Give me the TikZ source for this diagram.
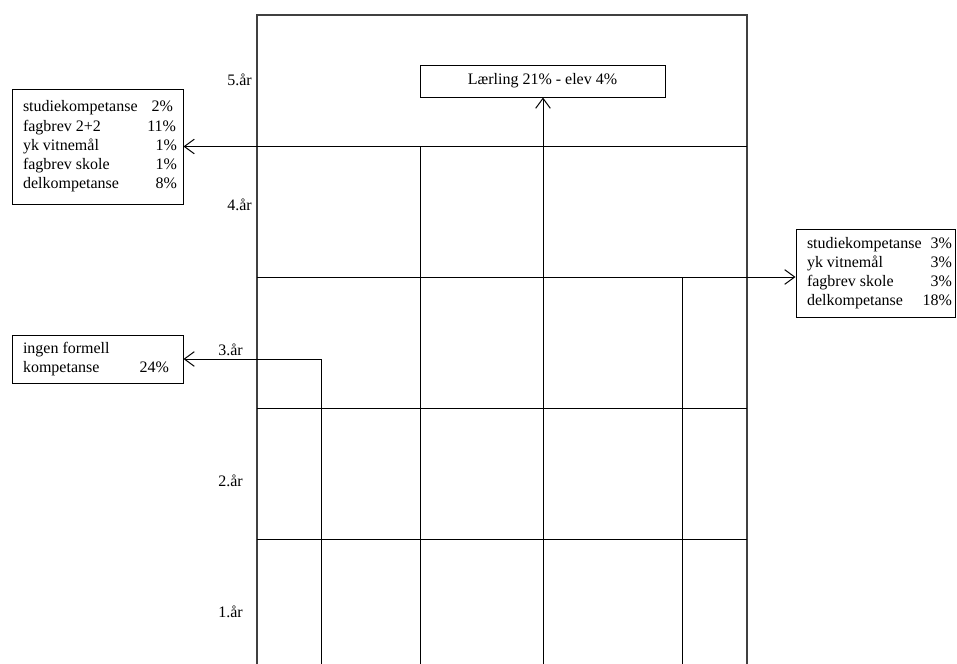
\documentclass[tikz,border=0pt]{standalone}
\usepackage{fontspec}
\setmainfont{Liberation Serif}
\usetikzlibrary{arrows.meta}
\newcommand\boxrow[3]{\makebox[#1][l]{#2}}
\begin{document}
\begin{tikzpicture}[x=0.75pt,y=-0.75pt,
  every node/.style={font=\fontsize{12}{14.4}\selectfont, inner sep=0pt},
  gridline/.style={line width=0.75pt},
  frame/.style={line width=1.2pt, draw=black!75},
  box/.style={draw, line width=0.75pt, rectangle, align=left},
  arr/.style={line width=0.75pt, -{Straight Barb[length=7.5pt,width=11pt]}},
  yr/.style={anchor=east}]
\useasboundingbox (0,0) rectangle (957,664);

% grid
\draw[frame] (257,664) -- (257,15) -- (747,15) -- (747,664);
\coordinate (h1) at (257,146);
\coordinate (h2) at (257,277);
\coordinate (h3) at (257,408);
\coordinate (h4) at (257,539);
\foreach \c in {h1,h2,h3,h4} \draw[gridline] (\c) -- ++(490,0);

\coordinate (b1) at (321,664);
\coordinate (b2) at (420,664);
\coordinate (b3) at (543,664);
\coordinate (b4) at (682,664);

% year labels
\node[yr] (y5) at (252,80) {5.år};
\node[yr] (y4) at (252,205) {4.år};
\node[yr] (y3) at (243,350) {3.år};
\node[yr] (y2) at (243,481) {2.år};
\node[yr] (y1) at (243,612) {1.år};

% boxes
\node[box, minimum width=128.25pt, minimum height=86.25pt] (kA) at (97.5,146.5) {%
\makebox[119.25pt][l]{\hspace*{3.75pt}studiekompetanse\hfill 2\%\hspace*{3pt}}\\
\makebox[119.25pt][l]{\hspace*{3.75pt}fagbrev 2+2\hfill 11\%\hspace*{0.75pt}}\\
\makebox[119.25pt][l]{\hspace*{3.75pt}yk vitnemål\hfill 1\%}\\
\makebox[119.25pt][l]{\hspace*{3.75pt}fagbrev skole\hfill 1\%}\\
\makebox[119.25pt][l]{\hspace*{3.75pt}delkompetanse\hfill 8\%}};

\node[box, minimum width=119.25pt, minimum height=66pt] (kB) at (875.5,273) {%
\makebox[114.75pt][l]{\hspace*{6pt}studiekompetanse\hfill 3\%}\\
\makebox[114.75pt][l]{\hspace*{6pt}yk vitnemål\hfill 3\%}\\
\makebox[114.75pt][l]{\hspace*{6pt}fagbrev skole\hfill 3\%}\\
\makebox[114.75pt][l]{\hspace*{6pt}delkompetanse\hfill 18\%}};

\node[box, minimum width=128.25pt, minimum height=36pt] (kC) at (97.5,359) {%
\makebox[119.25pt][l]{\hspace*{3.75pt}ingen formell\hfill}\\
\makebox[119.25pt][l]{\hspace*{3.75pt}kompetanse\hfill 24\%\hspace*{6pt}}};

\node[box, minimum width=183.75pt, minimum height=24pt, align=center] (kL) at (542.5,81) {Lærling 21\% - elev 4\%};

% connectors
\draw[arr] (b1) |- (kC.east);
\draw[arr] (b2) |- (kA.east);
\draw[arr] (b3) -- (kL.south -| b3);
\draw[arr] (b4) |- (kB.west |- h2);
\end{tikzpicture}
\end{document}
